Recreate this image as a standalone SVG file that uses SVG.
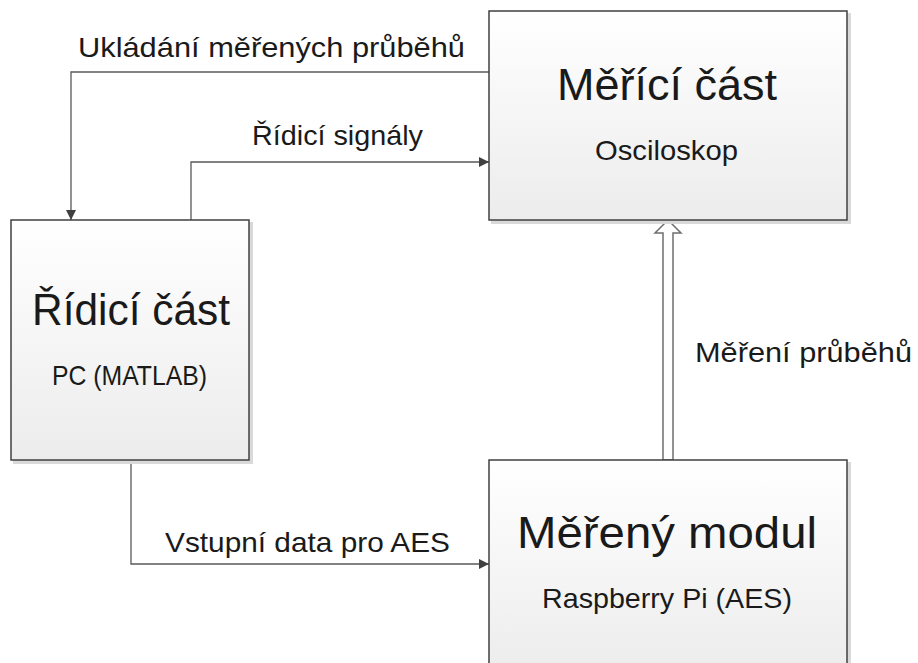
<svg xmlns="http://www.w3.org/2000/svg" width="918" height="663" viewBox="0 0 918 663">
<style>
.box{fill:url(#g);stroke:#404040;stroke-width:1.5}
.sh{fill:#d9d9d9}
.t{font-family:"Liberation Sans",Arial,sans-serif;fill:#1a1a1a;text-anchor:start}
.big{font-size:44px}
.sm{font-size:28px}
.con{fill:none;stroke:#595959;stroke-width:1.3}
</style>
<defs>
<linearGradient id="g" x1="0" y1="0" x2="0" y2="1">
<stop offset="0" stop-color="#ffffff"/>
<stop offset="1" stop-color="#ececec"/>
</linearGradient>
<marker id="ar" viewBox="0 0 10 10" refX="10" refY="5" markerWidth="10" markerHeight="10" markerUnits="userSpaceOnUse" orient="auto">
<path d="M0,0 L10,5 L0,10 z" fill="#404040"/>
</marker>
</defs>
<rect width="918" height="663" fill="#ffffff"/>
<g id="connectors">
<polyline class="con" points="489,72 71,72 71,220" marker-end="url(#ar)"/>
<polyline class="con" points="191,220 191,162 489,162" marker-end="url(#ar)"/>
<polyline class="con" points="131,460 131,564 489,564" marker-end="url(#ar)"/>
<polygon points="668,220 681,233 673,233 673,460 663,460 663,233 655,233" fill="#ffffff" stroke="#6f6f6f" stroke-width="1.5" stroke-linejoin="miter"/>
<text class="t sm" x="78" y="57" textLength="387" lengthAdjust="spacingAndGlyphs">Ukládání měřených průběhů</text>
<text class="t sm" x="252" y="145" textLength="171" lengthAdjust="spacingAndGlyphs">Řídicí signály</text>
<text class="t sm" x="165" y="552" textLength="285" lengthAdjust="spacingAndGlyphs">Vstupní data pro AES</text>
<text class="t sm" x="695" y="362" textLength="217" lengthAdjust="spacingAndGlyphs">Měření průběhů</text>
</g>
<g id="node-merici">
<rect class="sh" x="491" y="13" width="360" height="211"/>
<rect class="box" x="489" y="11" width="358" height="209"/>
<text class="t big" x="557" y="100" textLength="220" lengthAdjust="spacingAndGlyphs">Měřící část</text>
<text class="t sm" x="595" y="160" textLength="143" lengthAdjust="spacingAndGlyphs">Osciloskop</text>
</g>
<g id="node-ridici">
<rect class="sh" x="13" y="222" width="240" height="242"/>
<rect class="box" x="11" y="220" width="238" height="240"/>
<text class="t big" x="32" y="325" textLength="198" lengthAdjust="spacingAndGlyphs">Řídicí část</text>
<text class="t sm" x="52" y="385" textLength="155" lengthAdjust="spacingAndGlyphs">PC (MATLAB)</text>
</g>
<g id="node-modul">
<rect class="sh" x="491" y="462" width="360" height="215"/>
<rect class="box" x="489" y="460" width="358" height="215"/>
<text class="t big" x="517" y="548" textLength="300" lengthAdjust="spacingAndGlyphs">Měřený modul</text>
<text class="t sm" x="542" y="608" textLength="250" lengthAdjust="spacingAndGlyphs">Raspberry Pi (AES)</text>
</g>
</svg>
